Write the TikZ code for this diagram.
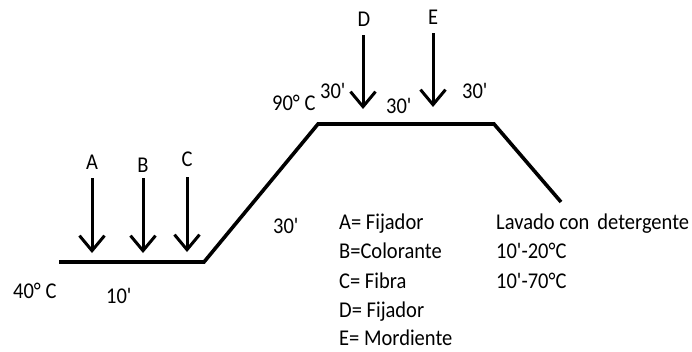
\documentclass[tikz,border=0pt]{standalone}
\usepackage{fontspec}
\usepackage{graphicx}
\setmainfont{Carlito}[Ligatures=TeXOff]
\usetikzlibrary{arrows.meta}
\newcommand\tallt[1]{\scalebox{1}[1.1]{#1}}
\begin{document}
\begin{tikzpicture}[x=1pt,y=-1pt,
  txt/.style={inner sep=0pt,anchor=base,font=\fontsize{20.5}{24}\selectfont},
  lbl/.style={txt,anchor=base west},
  curve/.style={line width=3.6pt,line join=miter},
  addarrow/.style={line width=3pt,-{Straight Barb[length=15pt,width=25pt,line width=3pt]}}]
\useasboundingbox (0,0) rectangle (692,351);
% temperature profile
\coordinate (p1) at (59,262);
\coordinate (p2) at (204,262);
\coordinate (p3) at (318,124);
\coordinate (p4) at (494,124);
\coordinate (p5) at (561,202);
\draw[curve] (p1) -- (p2) -- (p3) -- (p4) -- (p5);
% arrows
\node[txt] (A) at (92,169) {\tallt{A}};
\node[txt] (B) at (143,172) {\tallt{B}};
\node[txt] (C) at (187,166) {\tallt{C}};
\node[txt] (D) at (364,26) {\tallt{D}};
\node[txt] (E) at (433,24) {\tallt{E}};
\coordinate (a1) at (92,178); \coordinate (a2) at (92,253);
\coordinate (b1) at (143,178); \coordinate (b2) at (143,253);
\coordinate (c1) at (187,177); \coordinate (c2) at (187,252);
\coordinate (d1) at (363,35); \coordinate (d2) at (363,109);
\coordinate (e1) at (433,33); \coordinate (e2) at (433,107);
\draw[addarrow] (a1) -- (a2);
\draw[addarrow] (b1) -- (b2);
\draw[addarrow] (c1) -- (c2);
\draw[addarrow] (d1) -- (d2);
\draw[addarrow] (e1) -- (e2);
% labels
\node[lbl] (t40) at (13,298) {\tallt{40° C}};
\node[lbl] (t10) at (106,303) {\tallt{10'}};
\node[lbl] (t30a) at (273,233) {\tallt{30'}};
\node[lbl] (t90) at (272,110) {\tallt{90° C}};
\node[lbl] (t30b) at (320,98) {\tallt{30'}};
\node[lbl] (t30c) at (386,113) {\tallt{30'}};
\node[lbl] (t30d) at (462,98) {\tallt{30'}};
% legend
\node[lbl] (lA) at (339,229) {\tallt{A= Fijador}};
\node[lbl] (lB) at (339,258) {\tallt{B=Colorante}};
\node[lbl] (lC) at (339,288) {\tallt{C= Fibra}};
\node[lbl] (lD) at (339,317) {\tallt{D= Fijador}};
\node[lbl] (lE) at (339,345) {\tallt{E= Mordiente}};
\node[lbl] (w1) at (496,229) {\tallt{Lavado con \,detergente}};
\node[lbl] (w2) at (496,258) {\tallt{10'-20°C}};
\node[lbl] (w3) at (496,288) {\tallt{10'-70°C}};
\end{tikzpicture}
\end{document}
